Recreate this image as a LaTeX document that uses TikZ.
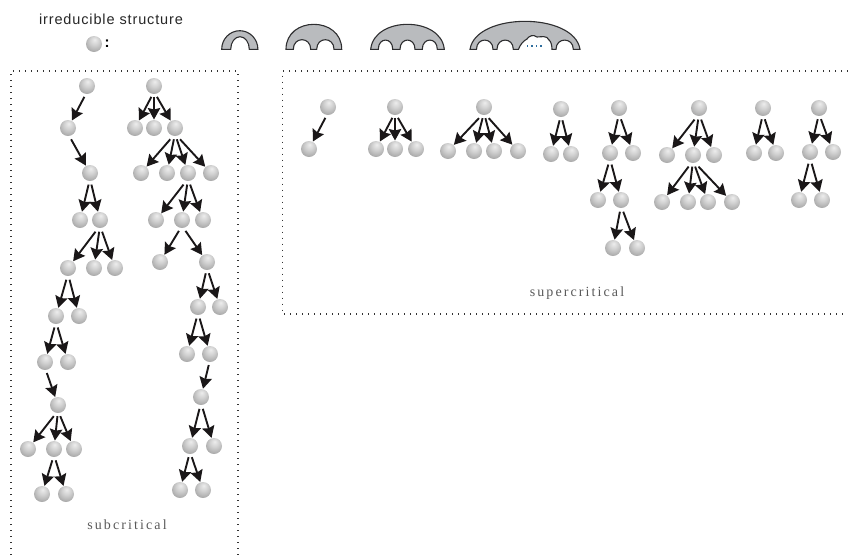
\documentclass[tikz,border=0pt]{standalone}
\usepackage{fontspec}
\setmainfont{Liberation Sans}
\newfontfamily\lblfont[LetterSpace=15]{Liberation Serif}
\newfontfamily\ttlfont[LetterSpace=6]{Liberation Sans}
\usetikzlibrary{calc,arrows.meta}
\definecolor{archfill}{HTML}{B9BBBE}
\definecolor{archline}{HTML}{2E2E30}
\definecolor{ink}{HTML}{1A1718}
\definecolor{cloudblue}{HTML}{2F6E9E}
\pgfdeclareradialshading{sph}{\pgfpoint{2bp}{14bp}}{%
  color(0bp)=(black!7);
  color(14bp)=(black!18);
  color(28bp)=(black!31);
  color(44bp)=(black!44);
  color(60bp)=(black!56)}
\tikzset{
  x=1pt,y=-1pt,
  ball/.style={circle,minimum size=16pt,inner sep=0pt,outer sep=0pt,shading=sph},
  arr/.style={line width=1.9pt,draw=ink,shorten >=0.5pt,
    -{Stealth[length=11.5pt,width=12.5pt,inset=1.5pt]}},
  dotbox/.style={line width=1.3pt,draw=black!80,dash pattern=on 1.3pt off 4.7pt},
  arch/.style={line width=1.1pt,draw=archline,fill=archfill},
  lbl/.style={inner sep=0pt,text=black!65,font=\lblfont\fontsize{14pt}{16pt}\selectfont}
}
\newcommand{\arrow}[2]{\draw[arr] ($(#1)+(0,5)+0.14*(#2)-0.14*(#1)$) -- (#2);}
\newcommand{\balls}[1]{\foreach \nm/\px/\py in {#1} \node[ball] (\nm) at (\px,\py) {};}
\newcommand{\arrows}[1]{\foreach \pa/\ch in {#1} \arrow{\pa}{\ch};}
\begin{document}
\begin{tikzpicture}
\useasboundingbox (0,0) rectangle (848,555);
% frames
\draw[dotbox] (11,555) -- (11,71) -- (238,71) -- (238,555);
\draw[dotbox] (848,71) -- (282.5,71) -- (282.5,314) -- (848,314);
% legend
\node[inner sep=0pt,font=\ttlfont\fontsize{14.5pt}{16pt}\selectfont,text=black!85] (title) at (111,19) {irreducible structure};
\node[ball] (legend) at (94,44) {};
\node[inner sep=0pt,font=\bfseries\fontsize{15pt}{18pt}\selectfont] (colon) at (107,44) {:};
% arches
\draw[arch] (221.7,49.3) arc[x radius=18.1,y radius=18.6,start angle=180,end angle=360] -- (249.3,49.3)
  arc[x radius=9.3,y radius=12.6,start angle=360,end angle=180] -- cycle;
\draw[arch] (286,49.3) .. controls (286,16) and (341.7,16) .. (341.7,49.3) -- (334,49.3)
  .. controls (334,36.5) and (316.7,36.5) .. (316.7,49.3) -- (310.7,49.3)
  .. controls (310.7,36.5) and (293.3,36.5) .. (293.3,49.3) -- cycle;
\draw[arch] (370.7,49.3) .. controls (374,16) and (441,16) .. (444.3,49.3) -- (437.3,49.3)
  .. controls (437.3,37) and (422.3,37) .. (422.3,49.3) -- (415,49.3)
  .. controls (415,37) and (400,37) .. (400,49.3) -- (392.7,49.3)
  .. controls (392.7,37) and (378.3,37) .. (378.3,49.3) -- cycle;
\draw[arch] (470,49.3) .. controls (476,12) and (574,12) .. (580,49.3) -- (573.3,49.3)
  .. controls (573.3,37) and (556,37) .. (556,49.3) -- (552,49.3)
  .. controls (552,46) and (551,41) .. (549,40) .. controls (547,35) and (541,37) .. (537,37)
  .. controls (533,34) and (529,36) .. (527,39) .. controls (523,41) and (520,45) .. (518.5,49.3) -- (513.3,49.3)
  .. controls (513.3,37) and (497,37) .. (497,49.3) -- (493,49.3)
  .. controls (493,37) and (476.5,37) .. (476.5,49.3) -- cycle;
\draw[line width=1.2pt,draw=cloudblue,dash pattern=on 1.4pt off 3pt] (527,46) -- (544,46);
% subcritical left tree
\balls{a1/87/86,a2/68/128,a3/90/173,a4/80/220,a5/100/220,a6/68/268,a7/94/268,a8/115/268,a9/56/316,a10/79/316,a11/45/362,a12/68/362,a13/58/405,a14/28/449,a15/54/449,a16/74/449,a17/42/494,a18/66/494}
\arrows{a1/a2,a2/a3,a3/a4,a3/a5,a5/a6,a5/a7,a5/a8,a6/a9,a6/a10,a9/a11,a9/a12,a11/a13,a13/a14,a13/a15,a13/a16,a15/a17,a15/a18}
% subcritical right tree
\balls{b1/154/86,b2/135/128,b3/154/128,b4/175/128,b5/141/173,b6/167/173,b7/188/173,b8/211/173,b9/156/220,b10/182/220,b11/203/220,b12/160/262,b13/207/262,b14/198/307,b15/220/307,b16/187/354,b17/210/354,b18/201/397,b19/190/446,b20/214/446,b21/180/490,b22/203/490}
\arrows{b1/b2,b1/b3,b1/b4,b4/b5,b4/b6,b4/b7,b4/b8,b7/b9,b7/b10,b7/b11,b10/b12,b10/b13,b13/b14,b13/b15,b14/b16,b14/b17,b17/b18,b18/b19,b18/b20,b19/b21,b19/b22}
\node[lbl] (sub) at (127,525) {subcritical};
% supercritical
\balls{c1/328/107,c2/309/149}
\arrows{c1/c2}
\balls{d1/395/107,d2/376/149,d3/395/149,d4/416/149}
\arrows{d1/d2,d1/d3,d1/d4}
\balls{e1/484/107,e2/448/151,e3/474/151,e4/494/151,e5/518/151}
\arrows{e1/e2,e1/e3,e1/e4,e1/e5}
\balls{f1/561/109,f2/551/154,f3/571/154}
\arrows{f1/f2,f1/f3}
\balls{g1/619/108,g2/610/153,g3/633/153,g4/598/200,g5/621/200,g6/613/248,g7/637/248}
\arrows{g1/g2,g1/g3,g2/g4,g2/g5,g5/g6,g5/g7}
\balls{h1/699/108,h2/667/155,h3/693/155,h4/714/155,h5/662/202,h6/688/202,h7/708/202,h8/732/202}
\arrows{h1/h2,h1/h3,h1/h4,h3/h5,h3/h6,h3/h7,h3/h8}
\balls{i1/763/108,i2/754/153,i3/776/153}
\arrows{i1/i2,i1/i3}
\balls{j1/819/108,j2/810/152,j3/833/152,j4/799/200,j5/822/200}
\arrows{j1/j2,j1/j3,j2/j4,j2/j5}
\node[lbl] (sup) at (577,293) {supercritical};
\end{tikzpicture}
\end{document}
